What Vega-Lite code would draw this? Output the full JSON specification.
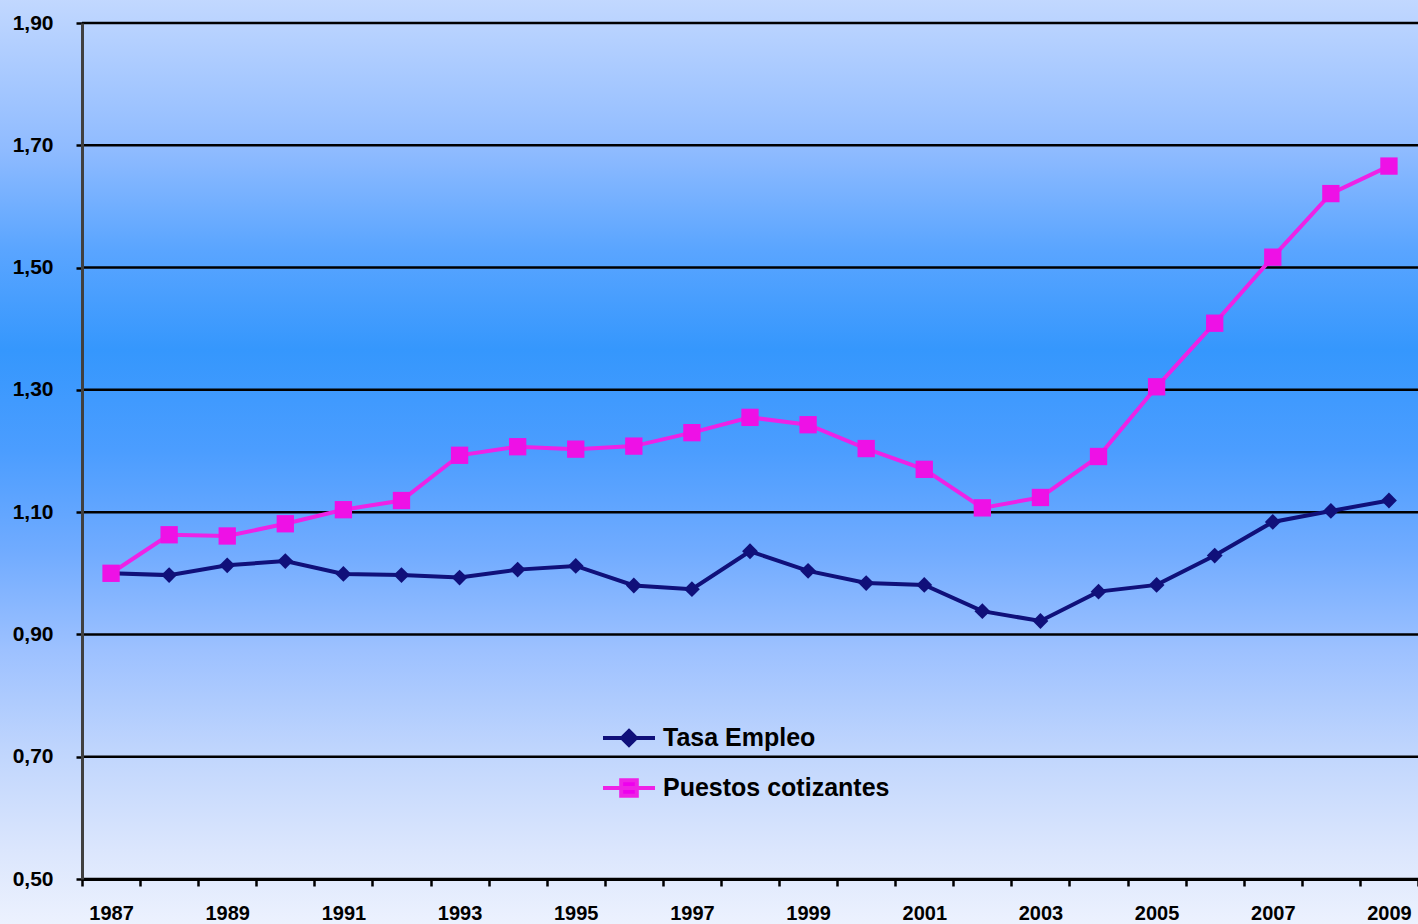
{
  "$schema": "https://vega.github.io/schema/vega-lite/v6.json",
  "width": 1336,
  "height": 856,
  "autosize": {"type": "none"},
  "padding": {"left": 82, "top": 23, "right": 0, "bottom": 45},
  "background": "#dfe9fe",
  "config": {"view": {"stroke": null}, "font": "Liberation Sans"},
  "datasets": {
    "series": [
      {"year": 1987, "serie": "Tasa Empleo", "valor": 1.000},
      {"year": 1988, "serie": "Tasa Empleo", "valor": 0.997},
      {"year": 1989, "serie": "Tasa Empleo", "valor": 1.013},
      {"year": 1990, "serie": "Tasa Empleo", "valor": 1.020},
      {"year": 1991, "serie": "Tasa Empleo", "valor": 0.999},
      {"year": 1992, "serie": "Tasa Empleo", "valor": 0.997},
      {"year": 1993, "serie": "Tasa Empleo", "valor": 0.993},
      {"year": 1994, "serie": "Tasa Empleo", "valor": 1.006},
      {"year": 1995, "serie": "Tasa Empleo", "valor": 1.012},
      {"year": 1996, "serie": "Tasa Empleo", "valor": 0.980},
      {"year": 1997, "serie": "Tasa Empleo", "valor": 0.974},
      {"year": 1998, "serie": "Tasa Empleo", "valor": 1.036},
      {"year": 1999, "serie": "Tasa Empleo", "valor": 1.004},
      {"year": 2000, "serie": "Tasa Empleo", "valor": 0.984},
      {"year": 2001, "serie": "Tasa Empleo", "valor": 0.981},
      {"year": 2002, "serie": "Tasa Empleo", "valor": 0.938},
      {"year": 2003, "serie": "Tasa Empleo", "valor": 0.922},
      {"year": 2004, "serie": "Tasa Empleo", "valor": 0.970},
      {"year": 2005, "serie": "Tasa Empleo", "valor": 0.981},
      {"year": 2006, "serie": "Tasa Empleo", "valor": 1.029},
      {"year": 2007, "serie": "Tasa Empleo", "valor": 1.084},
      {"year": 2008, "serie": "Tasa Empleo", "valor": 1.102},
      {"year": 2009, "serie": "Tasa Empleo", "valor": 1.119},
      {"year": 1987, "serie": "Puestos cotizantes", "valor": 1.000},
      {"year": 1988, "serie": "Puestos cotizantes", "valor": 1.063},
      {"year": 1989, "serie": "Puestos cotizantes", "valor": 1.061},
      {"year": 1990, "serie": "Puestos cotizantes", "valor": 1.081},
      {"year": 1991, "serie": "Puestos cotizantes", "valor": 1.104},
      {"year": 1992, "serie": "Puestos cotizantes", "valor": 1.119},
      {"year": 1993, "serie": "Puestos cotizantes", "valor": 1.193},
      {"year": 1994, "serie": "Puestos cotizantes", "valor": 1.207},
      {"year": 1995, "serie": "Puestos cotizantes", "valor": 1.203},
      {"year": 1996, "serie": "Puestos cotizantes", "valor": 1.208},
      {"year": 1997, "serie": "Puestos cotizantes", "valor": 1.230},
      {"year": 1998, "serie": "Puestos cotizantes", "valor": 1.255},
      {"year": 1999, "serie": "Puestos cotizantes", "valor": 1.243},
      {"year": 2000, "serie": "Puestos cotizantes", "valor": 1.204},
      {"year": 2001, "serie": "Puestos cotizantes", "valor": 1.170},
      {"year": 2002, "serie": "Puestos cotizantes", "valor": 1.107},
      {"year": 2003, "serie": "Puestos cotizantes", "valor": 1.124},
      {"year": 2004, "serie": "Puestos cotizantes", "valor": 1.191},
      {"year": 2005, "serie": "Puestos cotizantes", "valor": 1.305},
      {"year": 2006, "serie": "Puestos cotizantes", "valor": 1.409},
      {"year": 2007, "serie": "Puestos cotizantes", "valor": 1.517},
      {"year": 2008, "serie": "Puestos cotizantes", "valor": 1.621},
      {"year": 2009, "serie": "Puestos cotizantes", "valor": 1.666}
    ],
    "grid": [
      {"nivel": 0.5}, {"nivel": 0.7}, {"nivel": 0.9}, {"nivel": 1.1},
      {"nivel": 1.3}, {"nivel": 1.5}, {"nivel": 1.7}, {"nivel": 1.9}
    ]
  },
  "layer": [
    {
      "data": {"values": [{"fondo": "gradiente"}]},
      "mark": {
        "type": "rect",
        "clip": false,
        "fill": {
          "gradient": "linear",
          "x1": 0, "y1": 0, "x2": 0, "y2": 1,
          "stops": [
            {"offset": 0.0, "color": "#c2d8ff"},
            {"offset": 0.163, "color": "#8fbbff"},
            {"offset": 0.27, "color": "#5aa5ff"},
            {"offset": 0.378, "color": "#3597fd"},
            {"offset": 0.486, "color": "#4b9dff"},
            {"offset": 0.593, "color": "#70abff"},
            {"offset": 0.701, "color": "#9dc1ff"},
            {"offset": 0.808, "color": "#bfd5fd"},
            {"offset": 0.916, "color": "#dbe6fd"},
            {"offset": 1.0, "color": "#edf2fe"}
          ]
        }
      },
      "encoding": {
        "x": {"datum": -0.1, "type": "quantitative", "scale": {"domain": [0, 1]}, "axis": null},
        "x2": {"datum": 1.0},
        "y": {"datum": 1.94, "type": "quantitative", "scale": {"domain": [0.5, 1.9], "nice": false, "zero": false}},
        "y2": {"datum": 0.42}
      }
    },
    {
      "layer": [
        {
          "data": {"name": "grid"},
          "mark": {"type": "rule", "stroke": "#000000", "strokeWidth": 2.5},
          "encoding": {
            "y": {"field": "nivel", "type": "quantitative", "scale": {"domain": [0.5, 1.9], "nice": false, "zero": false}}
          }
        },
        {
          "data": {"name": "series"},
          "mark": {"type": "line", "strokeWidth": 4},
          "encoding": {
            "x": {
              "field": "year", "type": "ordinal",
              "scale": {"paddingInner": 0, "paddingOuter": 0},
              "axis": {
                "orient": "bottom",
                "zindex": 1,
                "title": null,
                "tickBand": "extent",
                "tickSize": 7,
                "tickWidth": 2.5,
                "tickColor": "#000000",
                "domainColor": "#000000",
                "domainWidth": 3,
                "labelAngle": 0,
                "labelExpr": "datum.value % 2 == 1 ? datum.label : ''",
                "labelFontSize": 20,
                "labelFontWeight": "bold",
                "labelColor": "#000000",
                "labelPadding": 17
              }
            },
            "y": {
              "field": "valor", "type": "quantitative",
              "scale": {"domain": [0.5, 1.9], "nice": false, "zero": false},
              "axis": {
                "zindex": 1,
                "title": null,
                "grid": false,
                "values": [0.5, 0.7, 0.9, 1.1, 1.3, 1.5, 1.7, 1.9],
                "labelExpr": "replace(format(datum.value, '.2f'), '.', ',')",
                "labelFontSize": 21,
                "labelFontWeight": "bold",
                "labelColor": "#000000",
                "labelPadding": 23,
                "tickSize": 6,
                "tickWidth": 2.5,
                "tickColor": "#000000",
                "domainColor": "#404040",
                "domainWidth": 3
              }
            },
            "color": {
              "field": "serie", "type": "nominal",
              "scale": {"domain": ["Tasa Empleo", "Puestos cotizantes"], "range": ["#10107a", "#ee22e6"]},
              "legend": {
                "orient": "none",
                "legendX": 519,
                "legendY": 687,
                "title": null,
                "symbolType": "M-1,0L1,0",
                "symbolSize": 2704,
                "symbolStrokeWidth": 4,
                "labelFontSize": 25,
                "labelFontWeight": "bold",
                "labelColor": "#000000",
                "labelOffset": 6,
                "labelLimit": 0,
                "rowPadding": 6,
                "encode": {
                  "symbols": {
                    "update": {
                      "shape": {"signal": "datum.value == 'Tasa Empleo' ? 'M-1,0L1,0M0,-0.27L0.27,0L0,0.27L-0.27,0Z' : 'M-1,0L1,0M-0.3,-0.3L0.3,-0.3L0.3,0.3L-0.3,0.3Z'"},
                      "fill": {"signal": "datum.value == 'Tasa Empleo' ? '#10107a' : '#ee00ee'"},
                      "stroke": {"signal": "datum.value == 'Tasa Empleo' ? '#10107a' : '#ee22e6'"},
                      "strokeWidth": {"value": 4},
                      "opacity": {"value": 1}
                    }
                  }
                }
              }
            }
          }
        },
        {
          "data": {"name": "series"},
          "transform": [{"filter": "datum.serie == 'Tasa Empleo'"}],
          "mark": {"type": "point", "shape": "diamond", "filled": true, "opacity": 1, "size": 250, "color": "#10107a"},
          "encoding": {
            "x": {"field": "year", "type": "ordinal"},
            "y": {"field": "valor", "type": "quantitative"}
          }
        },
        {
          "data": {"name": "series"},
          "transform": [{"filter": "datum.serie == 'Puestos cotizantes'"}],
          "mark": {"type": "point", "shape": "square", "filled": true, "opacity": 1, "size": 300, "color": "#ee11e6"},
          "encoding": {
            "x": {"field": "year", "type": "ordinal"},
            "y": {"field": "valor", "type": "quantitative"}
          }
        }
      ]
    }
  ],
  "resolve": {"scale": {"x": "independent"}}
}
